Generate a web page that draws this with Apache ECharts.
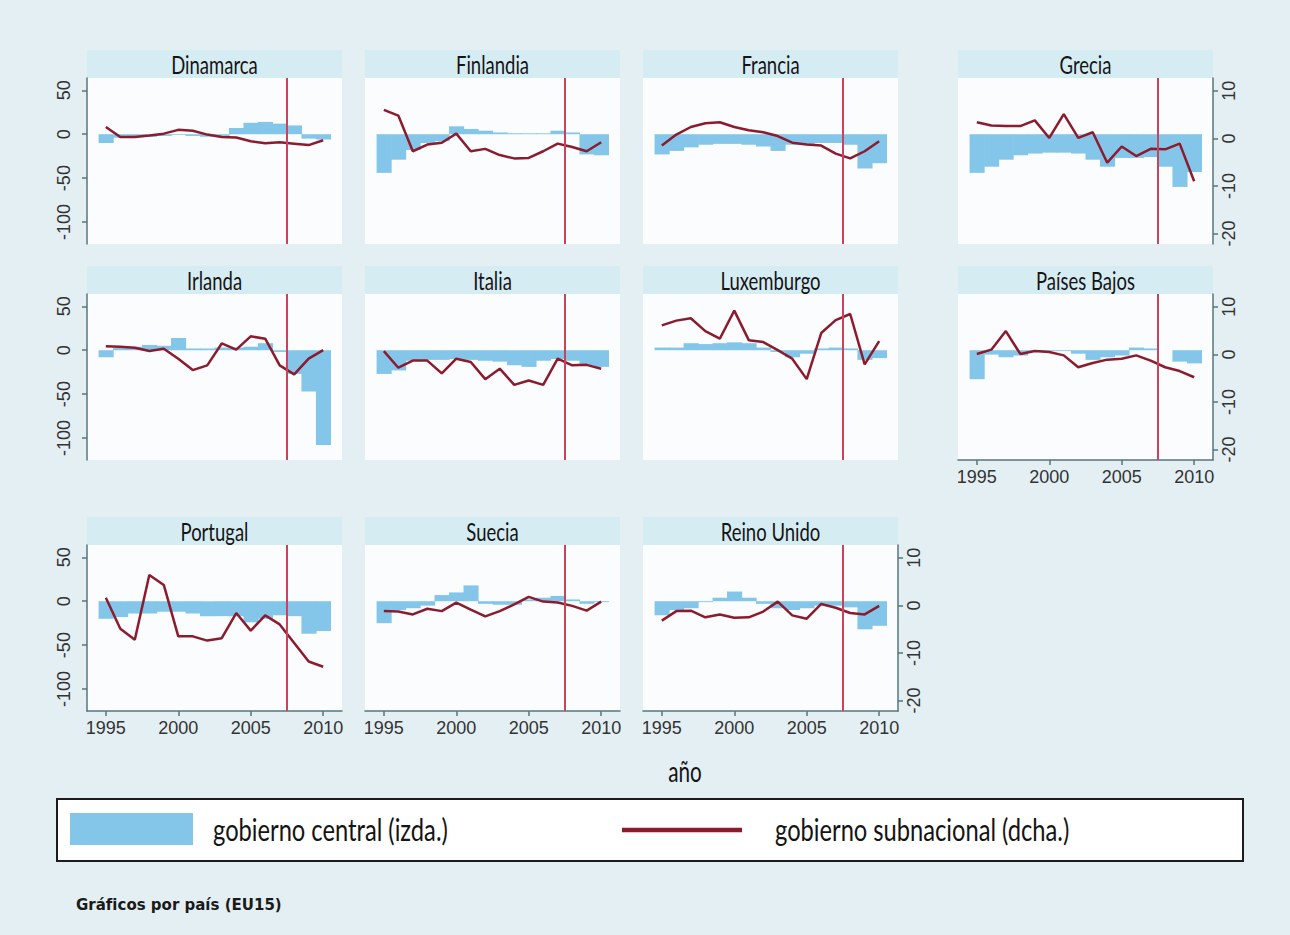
<!DOCTYPE html>
<html lang="es">
<head>
<meta charset="utf-8">
<title>Gráficos por país (EU15)</title>
<script src="https://cdn.jsdelivr.net/npm/echarts@6/dist/echarts.min.js"></script>
<style>
  html, body { margin: 0; padding: 0; background: #e3eff3; }
  #chart { width: 1290px; height: 935px; }
</style>
</head>
<body>
<div id="chart"></div>
<script>
// Years and tick positions
const years = [1995, 1996, 1997, 1998, 1999, 2000, 2001, 2002, 2003, 2004, 2005, 2006, 2007, 2008, 2009, 2010];
const xTicks = [1995, 2000, 2005, 2010];
const leftTicks = [-100, -50, 0, 50];
const rightTicks = [-20, -10, 0, 10];
const crisisYear = 2007.5;

// Central government (left axis) and subnational government (right axis), by country
const dinamarcaCentral = [-10, -4, -3, -3, -2, -1, -2, -3, -3, 7, 13, 14, 12, 10, -5, -6];
const dinamarcaSub = [2.4, 0.3, 0.3, 0.6, 1.0, 1.8, 1.6, 0.8, 0.3, 0.2, -0.6, -1.0, -0.8, -1.1, -1.4, -0.4];

const finlandiaCentral = [-44, -29, -18, -10, -8, 9, 6, 4, 2, 1, 1, 1, 4, 2, -23, -24];
const finlandiaSub = [6.0, 4.8, -2.7, -1.3, -0.9, 1.0, -2.7, -2.2, -3.5, -4.2, -4.1, -2.7, -1.1, -1.8, -2.7, -0.8];

const franciaCentral = [-23, -19, -15, -12, -11, -11, -12, -14, -19, -12, -12, -10, -10, -12, -39, -33];
const franciaSub = [-1.5, 0.8, 2.4, 3.2, 3.4, 2.4, 1.7, 1.3, 0.5, -0.9, -1.3, -1.5, -3.2, -4.2, -2.7, -0.6];

const greciaCentral = [-44, -37, -29, -24, -22, -21, -21, -22, -29, -37, -27, -27, -26, -37, -60, -43];
const greciaSub = [3.4, 2.7, 2.6, 2.6, 3.8, 0.1, 5.1, 0.1, 1.3, -5.1, -1.7, -3.7, -2.2, -2.3, -1.1, -9.0];

const irlandaCentral = [-8, 3, 4, 6, 5, 14, 2, 2, 3, 3, 4, 8, -2, -27, -47, -108];
const irlandaSub = [1.7, 1.6, 1.4, 0.7, 1.2, -0.9, -3.3, -2.3, 2.3, 1.0, 3.8, 3.3, -2.3, -4.2, -0.9, 0.9];

const italiaCentral = [-27, -23, -12, -11, -11, -10, -11, -12, -13, -17, -19, -12, -10, -12, -17, -19];
const italiaSub = [0.7, -2.8, -1.3, -1.3, -4.0, -0.9, -1.6, -5.2, -3.0, -6.4, -5.5, -6.4, -0.9, -2.3, -2.2, -3.0];

const luxemburgoCentral = [3, 3, 8, 7, 8, 9, 8, 3, -2, -8, -4, 2, 3, 2, -11, -9];
const luxemburgoSub = [6.1, 7.1, 7.6, 4.9, 3.3, 9.2, 3.0, 2.6, 0.9, -0.9, -5.2, 4.5, 7.2, 8.5, -2.1, 2.8];

const paisesBajosCentral = [-33, -5, -8, -6, -1, -1, -1, -4, -11, -8, -6, 3, 2, 0, -13, -15];
const paisesBajosSub = [0.1, 1.0, 4.9, 0.1, 0.7, 0.5, -0.2, -2.7, -1.8, -1.1, -0.9, -0.2, -1.3, -2.7, -3.5, -4.8];

const portugalCentral = [-20, -18, -14, -14, -12, -12, -14, -17, -17, -17, -24, -20, -16, -17, -37, -34];
const portugalSub = [1.6, -4.9, -7.2, 6.4, 4.3, -6.5, -6.5, -7.4, -6.9, -1.6, -5.3, -2.1, -4.0, -7.9, -11.8, -12.9];

const sueciaCentral = [-25, -10, -8, -5, 7, 10, 18, -3, -4, -4, 2, 4, 6, 2, -3, -1];
const sueciaSub = [-1.2, -1.3, -1.9, -0.7, -1.2, 0.6, -0.9, -2.3, -1.2, 0.2, 1.8, 0.8, 0.6, -0.1, -1.1, 0.8];

const reinoUnidoCentral = [-16, -10, -8, -1, 4, 11, 4, -3, -8, -10, -8, -5, -5, -7, -32, -28];
const reinoUnidoSub = [-3.2, -1.2, -1.1, -2.5, -1.9, -2.6, -2.5, -1.3, 0.8, -2.1, -2.8, 0.3, -0.5, -1.6, -1.9, -0.1];

const CENTRAL_NAME = 'gobierno central (izda.)';
const SUB_NAME = 'gobierno subnacional (dcha.)';

// Panel arrangement: column, row and which axes carry labels
const panels = [
  { name: 'Dinamarca', central: dinamarcaCentral, sub: dinamarcaSub, col: 0, row: 0, left: true },
  { name: 'Finlandia', central: finlandiaCentral, sub: finlandiaSub, col: 1, row: 0 },
  { name: 'Francia', central: franciaCentral, sub: franciaSub, col: 2, row: 0 },
  { name: 'Grecia', central: greciaCentral, sub: greciaSub, col: 3, row: 0, right: true },
  { name: 'Irlanda', central: irlandaCentral, sub: irlandaSub, col: 0, row: 1, left: true },
  { name: 'Italia', central: italiaCentral, sub: italiaSub, col: 1, row: 1 },
  { name: 'Luxemburgo', central: luxemburgoCentral, sub: luxemburgoSub, col: 2, row: 1 },
  { name: 'Países Bajos', central: paisesBajosCentral, sub: paisesBajosSub, col: 3, row: 1, right: true, bottom: true },
  { name: 'Portugal', central: portugalCentral, sub: portugalSub, col: 0, row: 2, left: true, bottom: true },
  { name: 'Suecia', central: sueciaCentral, sub: sueciaSub, col: 1, row: 2, bottom: true },
  { name: 'Reino Unido', central: reinoUnidoCentral, sub: reinoUnidoSub, col: 2, row: 2, right: true, bottom: true }
];

// Headings use a humanist face squeezed horizontally to a condensed look
const HEAD = "Lato, 'Open Sans', sans-serif";
const SQUEEZE = 0.74;
const KEY_SQUEEZE = 0.79;
const SANS = "'Liberation Sans', Arial, Helvetica, sans-serif";
const BLUE = '#84c6ea';
const RED = '#8b1b2d';
const VLINE = '#c9435a';
const AXIS = '#56777b';
const LABEL = '#333333';
const INK = '#141414';

const colLeft = [87, 365, 643, 958];
const rowTop = [78, 294, 545];
const plotW = 255;
const plotH = 166;
const stripH = 28;

// Each central-government value is a one-year-wide block from zero
function renderBlock(params, api) {
  const yr = api.value(0);
  const v = api.value(1);
  const a = api.coord([yr - 0.5, 0]);
  const b = api.coord([yr + 0.5, v]);
  return {
    type: 'rect',
    shape: { x: a[0], y: Math.min(a[1], b[1]), width: b[0] - a[0] + 0.6, height: Math.abs(b[1] - a[1]) },
    style: api.style()
  };
}

function headText(text, x, y, size, align, squeeze) {
  return {
    type: 'text', x, y, scaleX: squeeze || SQUEEZE, z: 2,
    style: { text, fill: INK, fontSize: size, fontFamily: HEAD, align: align, verticalAlign: 'middle' }
  };
}

const yearLabel = (v) => String(v);
const grid = [], xAxis = [], yAxis = [], series = [], graphic = [];

panels.forEach((p, i) => {
  const left = colLeft[p.col];
  const top = rowTop[p.row];

  grid.push({
    left, top, width: plotW, height: plotH,
    show: true, backgroundColor: '#fafcfd', borderWidth: 0,
    containLabel: false, outerBoundsMode: 'none'
  });

  xAxis.push({
    type: 'value', gridIndex: i, min: 1993.7, max: 2011.3, position: 'bottom',
    axisLine: { show: !!p.bottom, onZero: false, lineStyle: { color: AXIS, width: 1.5 } },
    axisTick: { show: !!p.bottom, length: 5, customValues: xTicks, lineStyle: { color: AXIS, width: 1.5 } },
    axisLabel: { show: !!p.bottom, customValues: xTicks, formatter: yearLabel, margin: 8, fontSize: 18, color: LABEL, fontFamily: SANS },
    splitLine: { show: false }
  });

  yAxis.push({
    type: 'value', gridIndex: i, min: -125, max: 64, position: 'left',
    axisLine: { show: !!p.left, onZero: false, lineStyle: { color: AXIS, width: 1.5 } },
    axisTick: { show: !!p.left, length: 5, customValues: leftTicks, lineStyle: { color: AXIS, width: 1.5 } },
    axisLabel: { show: !!p.left, customValues: leftTicks, rotate: 90, margin: 14, fontSize: 18, color: LABEL, fontFamily: SANS },
    splitLine: { show: false }
  });

  yAxis.push({
    type: 'value', gridIndex: i, min: -22.2, max: 12.7, position: 'right',
    axisLine: { show: !!p.right, onZero: false, lineStyle: { color: AXIS, width: 1.5 } },
    axisTick: { show: !!p.right, length: 5, customValues: rightTicks, lineStyle: { color: AXIS, width: 1.5 } },
    axisLabel: { show: !!p.right, customValues: rightTicks, rotate: 90, margin: 7, fontSize: 18, color: LABEL, fontFamily: SANS },
    splitLine: { show: false }
  });

  series.push({
    type: 'custom', name: CENTRAL_NAME,
    xAxisIndex: i, yAxisIndex: 2 * i,
    data: years.map((y, k) => [y, p.central[k]]),
    itemStyle: { color: BLUE },
    renderItem: renderBlock,
    silent: true, z: 1
  });

  series.push({
    type: 'line', name: SUB_NAME,
    xAxisIndex: i, yAxisIndex: 2 * i + 1,
    data: years.map((y, k) => [y, p.sub[k]]),
    symbol: 'none',
    lineStyle: { color: RED, width: 2.5 },
    itemStyle: { color: RED },
    z: 3, silent: true,
    markLine: {
      silent: true, symbol: 'none', animation: false,
      label: { show: false },
      lineStyle: { color: VLINE, width: 2, type: 'solid' },
      data: [{ xAxis: crisisYear }]
    }
  });

  // Title strip above each panel
  graphic.push({
    type: 'rect', z: 0,
    shape: { x: left, y: top - stripH, width: plotW, height: stripH },
    style: { fill: '#d5ecf3' }
  });
  graphic.push(headText(p.name, left + plotW / 2, top - stripH / 2, 25, 'center'));
});

// Shared x-axis title
graphic.push(headText('año', 685, 771, 28, 'center'));

// Key: frame, swatches and labels
graphic.push({
  type: 'rect', z: 0,
  shape: { x: 57, y: 799, width: 1186, height: 62 },
  style: { fill: '#ffffff', stroke: '#1c1c1c', lineWidth: 2 }
});
graphic.push({
  type: 'rect', z: 1,
  shape: { x: 70, y: 813, width: 123, height: 32 },
  style: { fill: BLUE }
});
graphic.push(headText(CENTRAL_NAME, 213, 829, 30, 'left', KEY_SQUEEZE));
graphic.push({
  type: 'line', z: 1,
  shape: { x1: 622, y1: 830, x2: 742, y2: 830 },
  style: { stroke: RED, lineWidth: 4.5 }
});
graphic.push(headText(SUB_NAME, 775, 829, 30, 'left', KEY_SQUEEZE));

// Footnote
graphic.push({
  type: 'text', x: 76, y: 905,
  style: { text: 'Gráficos por país (EU15)', fill: '#1a1a1a', fontSize: 15, fontWeight: 'bold', fontFamily: "'DejaVu Sans', sans-serif", align: 'left', verticalAlign: 'middle' }
});

const chart = echarts.init(document.getElementById('chart'), null, { renderer: 'svg', width: 1290, height: 935 });
chart.setOption({
  backgroundColor: '#e3eff3',
  animation: false,
  grid, xAxis, yAxis, series, graphic
});
</script>
</body>
</html>
